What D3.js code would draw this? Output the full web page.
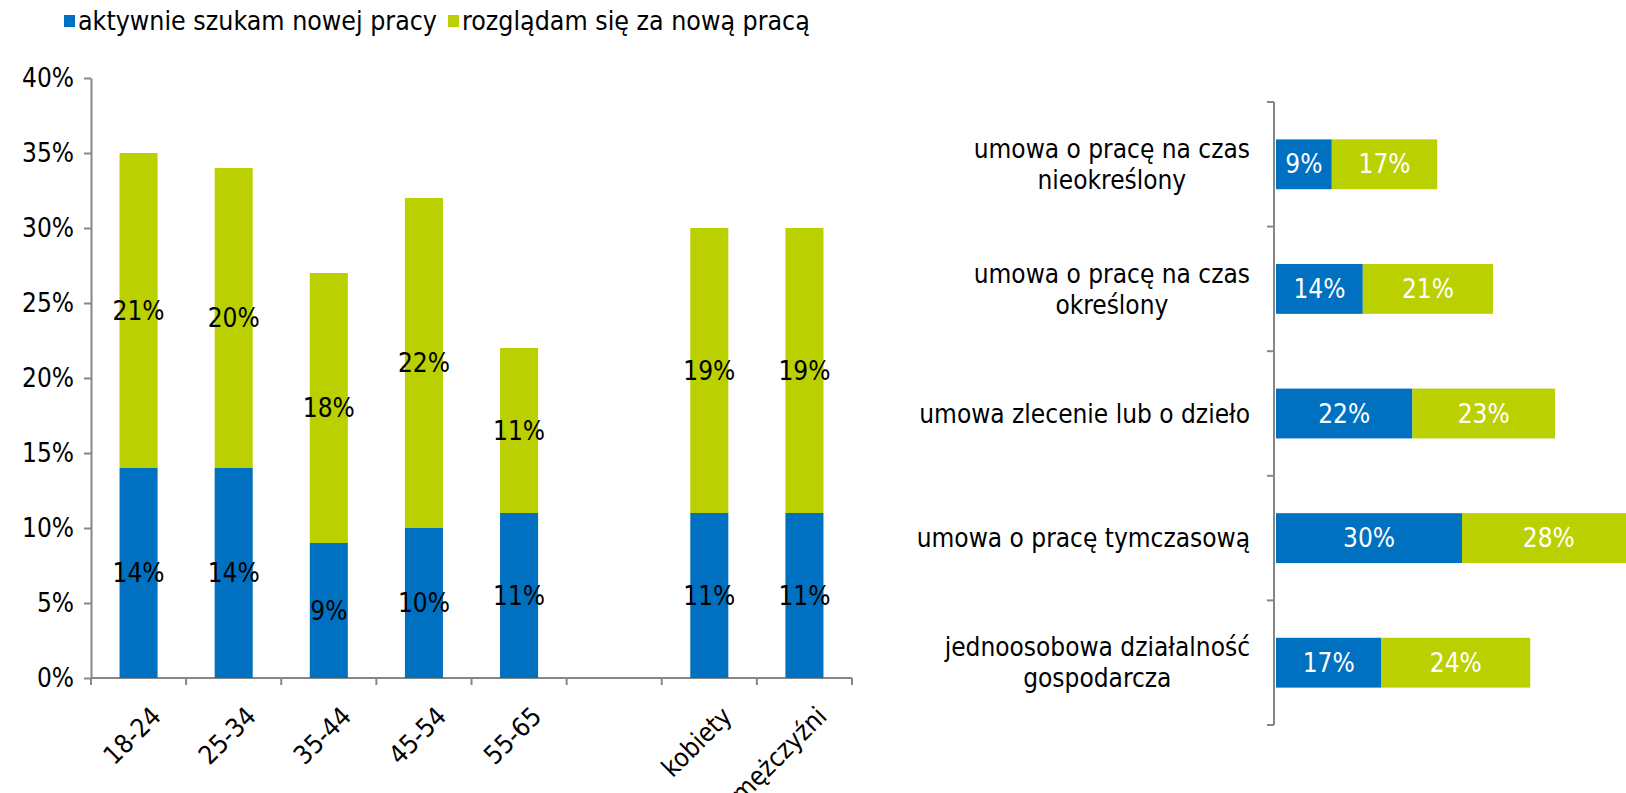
<!DOCTYPE html>
<html lang="pl">
<head>
<meta charset="utf-8">
<script src="https://cdn.jsdelivr.net/npm/d3@7"></script>
<style>
  body { margin: 0; background: #fff; }
  svg { font-family: "DejaVu Sans Condensed", "DejaVu Sans"; font-stretch: condensed; }
  .axis path, .axis line { stroke: #868686; stroke-width: 2; }
</style>
</head>
<body>
<svg width="1626" height="793"></svg>
<script>
// --- data ---
var seriesNames = ["aktywnie szukam nowej pracy", "rozglądam się za nową pracą"];
var colors = ["#0070C0", "#BBD000"];

var ageCats = ["18-24", "25-34", "35-44", "45-54", "55-65", "", "kobiety", "mężczyźni"];
var ageActive = [14, 14, 9, 10, 11, null, 11, 11];
var ageBrowsing = [21, 20, 18, 22, 11, null, 19, 19];
var yTicks = [0, 5, 10, 15, 20, 25, 30, 35, 40];

var contractCats = [
  "umowa o pracę na czas\nnieokreślony",
  "umowa o pracę na czas\nokreślony",
  "umowa zlecenie lub o dzieło",
  "umowa o pracę tymczasową",
  "jednoosobowa działalność\ngospodarcza"
];
var contractActive = [9, 14, 22, 30, 17];
var contractBrowsing = [17, 21, 23, 28, 24];

var svg = d3.select("svg");
var fs = 26;

// legend
var legend = svg.append("g");
var lx = [64, 448];
seriesNames.forEach(function(name, i) {
  legend.append("rect").attr("x", lx[i]).attr("y", 15).attr("width", 11).attr("height", 12).attr("fill", colors[i]);
  legend.append("text").attr("x", lx[i] + 14).attr("y", 21).attr("dy", "0.35em")
    .attr("font-size", 26.5).text(name);
});

// ---- left chart ----
var x = d3.scaleBand().domain(ageCats).range([91, 852]).paddingInner(0.6).paddingOuter(0.3);
var y = d3.scaleLinear().domain([0, 40]).range([678, 78]);

var left = svg.append("g");

var yAxis = left.append("g").attr("class", "axis").attr("transform", "translate(91,0)")
  .call(d3.axisLeft(y).tickValues(yTicks).tickSize(7).tickSizeOuter(0).tickPadding(10)
    .tickFormat(function(d) { return d + "%"; }));
yAxis.selectAll("text").attr("font-size", fs).attr("fill", "#000");
yAxis.attr("font-family", null);

// x axis line with ticks at band boundaries
var xAxis = left.append("g").attr("class", "axis");
xAxis.append("line").attr("x1", x.range()[0]).attr("x2", x.range()[1]).attr("y1", y(0)).attr("y2", y(0));
d3.range(ageCats.length + 1).forEach(function(i) {
  var bx = x.range()[0] + i * x.step();
  xAxis.append("line").attr("x1", bx).attr("x2", bx).attr("y1", y(0)).attr("y2", y(0) + 7);
});

var ageData = ageCats.map(function(c, i) { return { cat: c, a: ageActive[i], b: ageBrowsing[i] }; })
  .filter(function(d) { return d.a != null; });

var bars = left.selectAll(".bar").data(ageData).enter().append("g");
bars.append("rect").attr("x", function(d) { return x(d.cat); }).attr("width", x.bandwidth())
  .attr("y", function(d) { return y(d.a); }).attr("height", function(d) { return y(0) - y(d.a); })
  .attr("fill", colors[0]);
bars.append("rect").attr("x", function(d) { return x(d.cat); }).attr("width", x.bandwidth())
  .attr("y", function(d) { return y(d.a + d.b); }).attr("height", function(d) { return y(d.a) - y(d.a + d.b); })
  .attr("fill", colors[1]);
bars.append("text").attr("x", function(d) { return x(d.cat) + x.bandwidth() / 2; })
  .attr("y", function(d) { return y(d.a / 2); }).attr("dy", "0.35em").attr("text-anchor", "middle")
  .attr("font-size", fs).text(function(d) { return d.a + "%"; });
bars.append("text").attr("x", function(d) { return x(d.cat) + x.bandwidth() / 2; })
  .attr("y", function(d) { return y(d.a + d.b / 2); }).attr("dy", "0.35em").attr("text-anchor", "middle")
  .attr("font-size", fs).text(function(d) { return d.b + "%"; });

// rotated category labels
left.selectAll(".xl").data(ageCats.filter(function(c) { return c !== ""; })).enter().append("text")
  .attr("text-anchor", "end").attr("font-size", fs)
  .attr("transform", function(c) {
    return "translate(" + (x(c) + x.bandwidth() / 2 + 11) + "," + (y(0) + 27) + ") rotate(-45)";
  })
  .attr("dy", "0.7em").text(function(c) { return c; });

// ---- right chart ----
var yr = d3.scaleBand().domain(contractCats).range([102, 725]).paddingInner(0.6).paddingOuter(0.3);
var xr = d3.scaleLinear().domain([0, 60]).range([1276, 1648]);

var right = svg.append("g");
var rAxis = right.append("g").attr("class", "axis");
rAxis.append("line").attr("x1", 1274).attr("x2", 1274).attr("y1", yr.range()[0]).attr("y2", yr.range()[1]);
d3.range(contractCats.length + 1).forEach(function(i) {
  var by = yr.range()[0] + i * yr.step();
  rAxis.append("line").attr("x1", 1267).attr("x2", 1274).attr("y1", by).attr("y2", by);
});

var cData = contractCats.map(function(c, i) { return { cat: c, a: contractActive[i], b: contractBrowsing[i] }; });
var hb = right.selectAll(".hbar").data(cData).enter().append("g");
hb.append("rect").attr("x", xr(0)).attr("y", function(d) { return yr(d.cat); })
  .attr("width", function(d) { return xr(d.a) - xr(0); }).attr("height", yr.bandwidth()).attr("fill", colors[0]);
hb.append("rect").attr("x", function(d) { return xr(d.a); }).attr("y", function(d) { return yr(d.cat); })
  .attr("width", function(d) { return xr(d.a + d.b) - xr(d.a); }).attr("height", yr.bandwidth()).attr("fill", colors[1]);
hb.append("text").attr("x", function(d) { return xr(d.a / 2); })
  .attr("y", function(d) { return yr(d.cat) + yr.bandwidth() / 2; }).attr("dy", "0.35em")
  .attr("text-anchor", "middle").attr("fill", "#fff").attr("font-size", fs).text(function(d) { return d.a + "%"; });
hb.append("text").attr("x", function(d) { return xr(d.a + d.b / 2); })
  .attr("y", function(d) { return yr(d.cat) + yr.bandwidth() / 2; }).attr("dy", "0.35em")
  .attr("text-anchor", "middle").attr("fill", "#fff").attr("font-size", fs).text(function(d) { return d.b + "%"; });

// category labels: block right-aligned, lines centred on each other
cData.forEach(function(d) {
  var lines = d.cat.split("\n");
  var cy = yr(d.cat) + yr.bandwidth() / 2;
  var g = right.append("g");
  var texts = lines.map(function(l, i) {
    return g.append("text").attr("font-size", fs).attr("text-anchor", "middle")
      .attr("y", cy + (i - (lines.length - 1) / 2) * 31).attr("dy", "0.35em").text(l);
  });
  var w = d3.max(texts, function(t) { return t.node().getComputedTextLength(); });
  texts.forEach(function(t) { t.attr("x", 1250 - w / 2); });
});
</script>
</body>
</html>
